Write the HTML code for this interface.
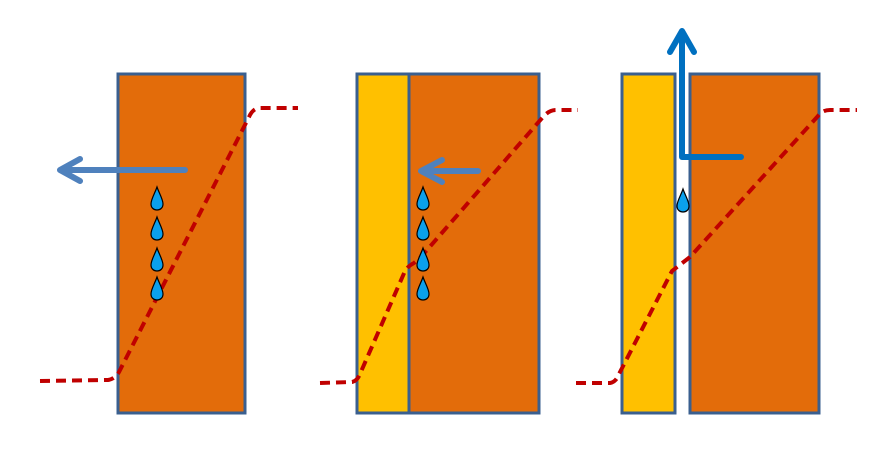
<!DOCTYPE html>
<html><head><style>body{margin:0;background:#fff}svg{display:block}</style></head><body>
<svg width="881" height="457" viewBox="0 0 881 457" xmlns="http://www.w3.org/2000/svg">
<defs>
<path id="d" d="M0,-12 C2,-6 6,0 6,5 C6,9 3,11 0,11 C-3,11 -6,9 -6,5 C-6,0 -2,-6 0,-12Z" fill="#0aa0ec" stroke="#000" stroke-width="1.2"/>
</defs>
<g stroke="#3a5f8f" stroke-width="3">
<rect x="118" y="74" width="127" height="339" fill="#e36c0a"/>
<rect x="357" y="74" width="52" height="339" fill="#ffc000"/>
<rect x="409" y="74" width="130" height="339" fill="#e36c0a"/>
<rect x="622" y="74" width="53" height="339" fill="#ffc000"/>
<rect x="690" y="74" width="129" height="339" fill="#e36c0a"/>
</g>
<g fill="none" stroke="#c00000" stroke-width="4" stroke-dasharray="10,6">
<path d="M40,381 L108,380 Q115,379 119,372 L249,117 Q253,108 260,108 L298,108"/>
<path d="M320,383 L352,382 Q357,381 360,374 L405,271 Q408,266 414,263 L420,258 L543,117 Q549,110 556,110 L578,110"/>
<path d="M576,383 L610,383 Q616,382 619,374 L672,271 L690,257 L818,116 Q822,110 830,110 L857,110"/>
</g>
<g fill="none" stroke="#4f81bd" stroke-width="6" stroke-linecap="round" stroke-linejoin="round">
<path d="M185,170 L60,170 M80,159 L60,170 L80,181"/>
<path d="M478,171 L421,171 M442,160 L421,171 L442,182"/>
</g>
<g fill="none" stroke="#0070c0" stroke-width="6" stroke-linecap="round" stroke-linejoin="round">
<path d="M741,157 L682,157 L682,31 M670,52 L682,31 L694,52"/>
</g>
<use href="#d" x="157" y="199"/><use href="#d" x="157" y="229"/><use href="#d" x="157" y="260"/><use href="#d" x="157" y="289"/>
<use href="#d" x="423" y="199"/><use href="#d" x="423" y="229"/><use href="#d" x="423" y="260"/><use href="#d" x="423" y="289"/>
<use href="#d" x="683" y="201"/>
</svg>
</body></html>
